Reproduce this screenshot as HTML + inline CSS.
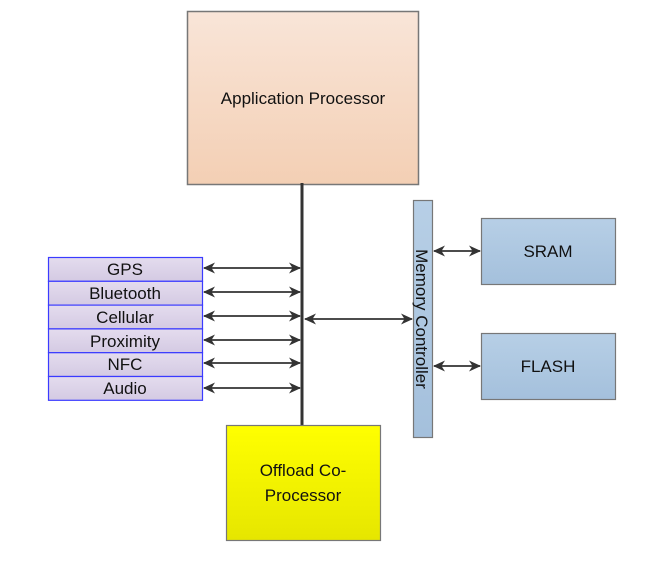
<!DOCTYPE html>
<html><head><meta charset="utf-8"><style>
html,body{margin:0;padding:0;background:#fff;}
svg{display:block;}
text{font-family:"Liberation Sans",sans-serif;fill:#111;}
</style></head><body>
<svg width="645" height="564" viewBox="0 0 645 564" xmlns="http://www.w3.org/2000/svg">
<defs>
<linearGradient id="ap" x1="0" y1="0" x2="0" y2="1"><stop offset="0" stop-color="#f9e5d8"/><stop offset="1" stop-color="#f3cfb4"/></linearGradient>
<linearGradient id="bl" x1="0" y1="0" x2="0" y2="1"><stop offset="0" stop-color="#b7cfe6"/><stop offset="1" stop-color="#a4c0dc"/></linearGradient>
<linearGradient id="yl" x1="0" y1="0" x2="0" y2="1"><stop offset="0" stop-color="#ffff00"/><stop offset="1" stop-color="#e6e600"/></linearGradient>
<linearGradient id="pu" x1="0" y1="0" x2="0" y2="1"><stop offset="0" stop-color="#e4dcee"/><stop offset="1" stop-color="#d4cae3"/></linearGradient>
<marker id="ah" markerWidth="12" markerHeight="12" refX="11" refY="6" orient="auto-start-reverse" markerUnits="userSpaceOnUse"><path d="M0,0.5 L12,6 L0,11.5 L3.5,6 z" fill="#333"/></marker>
</defs>
<rect x="187.5" y="11.5" width="231" height="173" fill="url(#ap)" stroke="#777" stroke-width="1.5"/>
<text x="303" y="104" font-size="17" text-anchor="middle">Application Processor</text>
<line x1="302" y1="183" x2="302" y2="426" stroke="#333" stroke-width="3"/>
<g fill="url(#pu)" stroke="#3b3bff" stroke-width="1.2">
<rect x="48.5" y="257.5" width="154" height="23.8"/>
<rect x="48.5" y="281.3" width="154" height="23.8"/>
<rect x="48.5" y="305.1" width="154" height="23.8"/>
<rect x="48.5" y="328.9" width="154" height="23.8"/>
<rect x="48.5" y="352.7" width="154" height="23.8"/>
<rect x="48.5" y="376.5" width="154" height="23.8"/>
</g>
<g font-size="17" text-anchor="middle">
<text x="125" y="275">GPS</text>
<text x="125" y="299">Bluetooth</text>
<text x="125" y="323">Cellular</text>
<text x="125" y="347">Proximity</text>
<text x="125" y="370">NFC</text>
<text x="125" y="394">Audio</text>
</g>
<g stroke="#333" stroke-width="1.8" marker-start="url(#ah)" marker-end="url(#ah)">
<line x1="204" y1="268" x2="300" y2="268"/>
<line x1="204" y1="292" x2="300" y2="292"/>
<line x1="204" y1="316" x2="300" y2="316"/>
<line x1="204" y1="340" x2="300" y2="340"/>
<line x1="204" y1="363" x2="300" y2="363"/>
<line x1="204" y1="388" x2="300" y2="388"/>
<line x1="305" y1="319" x2="412" y2="319"/>
<line x1="434" y1="251" x2="480" y2="251"/>
<line x1="434" y1="366" x2="480" y2="366"/>
</g>
<rect x="413.5" y="200.5" width="19" height="237" fill="url(#bl)" stroke="#777" stroke-width="1.2"/>
<text x="0" y="0" font-size="17" text-anchor="middle" transform="translate(416,319) rotate(90)">Memory Controller</text>
<rect x="481.5" y="218.5" width="134" height="66" fill="url(#bl)" stroke="#777" stroke-width="1.2"/>
<text x="548" y="257" font-size="17" text-anchor="middle">SRAM</text>
<rect x="481.5" y="333.5" width="134" height="66" fill="url(#bl)" stroke="#777" stroke-width="1.2"/>
<text x="548" y="372" font-size="17" text-anchor="middle">FLASH</text>
<rect x="226.5" y="425.5" width="154" height="115" fill="url(#yl)" stroke="#777" stroke-width="1.2"/>
<text x="303" y="476" font-size="17" text-anchor="middle">Offload Co-</text>
<text x="303" y="501" font-size="17" text-anchor="middle">Processor</text>
</svg>
</body></html>
